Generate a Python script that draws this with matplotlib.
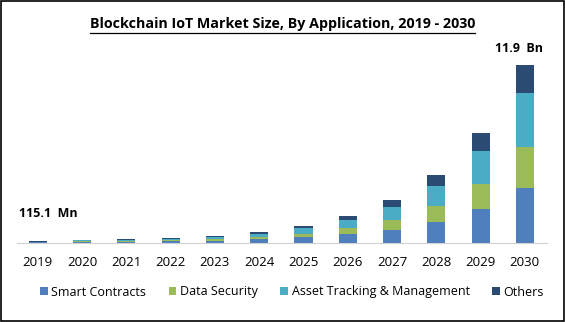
import numpy as np
import matplotlib.pyplot as plt
from matplotlib.patches import Rectangle

years = ["2019", "2020", "2021", "2022", "2023", "2024",
         "2025", "2026", "2027", "2028", "2029", "2030"]

# market size by application, USD billion
smart_contracts = [0.037, 0.064, 0.086, 0.106, 0.157, 0.24, 0.38, 0.58, 0.85, 1.38, 2.25, 3.67]
data_security = [0.025, 0.042, 0.057, 0.069, 0.103, 0.16, 0.20, 0.42, 0.67, 1.09, 1.67, 2.70]
asset_tracking = [0.035, 0.062, 0.084, 0.102, 0.152, 0.23, 0.40, 0.51, 0.89, 1.33, 2.22, 3.62]
others = [0.0181, 0.032, 0.043, 0.053, 0.078, 0.12, 0.13, 0.27, 0.44, 0.71, 1.16, 1.91]

series = [("Smart Contracts", smart_contracts, "#4f7fbd"),
          ("Data Security", data_security, "#9bbb59"),
          ("Asset Tracking & Management", asset_tracking, "#4bacc6"),
          ("Others", others, "#2c4b73")]

plt.rcParams['font.family'] = ['Open Sans', 'DejaVu Sans']

fig = plt.figure(figsize=(5.65, 3.22), dpi=100)
ax = fig.add_axes([17 / 565, 79 / 322, 530 / 565, 195 / 322])

x = np.arange(len(years))
bottom = np.zeros(len(years))
handles = []
for name, vals, color in series:
    b = ax.bar(x, vals, 0.41, bottom=bottom, color=color, label=name)
    bottom += np.array(vals)
    handles.append(b)

ax.set_xlim(-0.47, 11.5)
ax.set_ylim(0, 13)
ax.set_yticks([])
ax.set_xticks(x)
ax.set_xticklabels(years, fontsize=9.5)
ax.tick_params(axis='x', length=0, pad=9)
for side in ["top", "right", "left"]:
    ax.spines[side].set_visible(False)
ax.spines["bottom"].set_color("#d0d0d0")

total_first = bottom[0]
total_last = bottom[-1]
ax.text(-0.43, total_first + 1.45, f"{total_first * 1000:.1f}  Mn",
        fontsize=9, fontweight="bold", ha="left", va="bottom")
ax.text(11.4, total_last + 0.6, f"{total_last:.1f}  Bn",
        fontsize=9, fontweight="bold", ha="right", va="bottom")

fig.text(0.5, 1 - 24 / 322, "Blockchain IoT Market Size, By Application, 2019 - 2030",
         fontsize=10.3, fontweight="bold", ha="center", va="center")
fig.add_artist(plt.Line2D([90 / 565, 475 / 565], [1 - 33 / 322, 1 - 33 / 322],
                          color="black", lw=0.9))

fig.legend(handles=handles, loc="center", bbox_to_anchor=(292 / 565, 1 - 292 / 322),
           ncol=4, frameon=False, fontsize=9, handlelength=0.6, handleheight=0.6,
           handletextpad=0.3, columnspacing=1.8)

fig.add_artist(Rectangle((0.001, 0.002), 0.997, 0.995, transform=fig.transFigure,
                         fill=False, edgecolor="black", lw=1.2))

fig.savefig("out.png", dpi=100)
